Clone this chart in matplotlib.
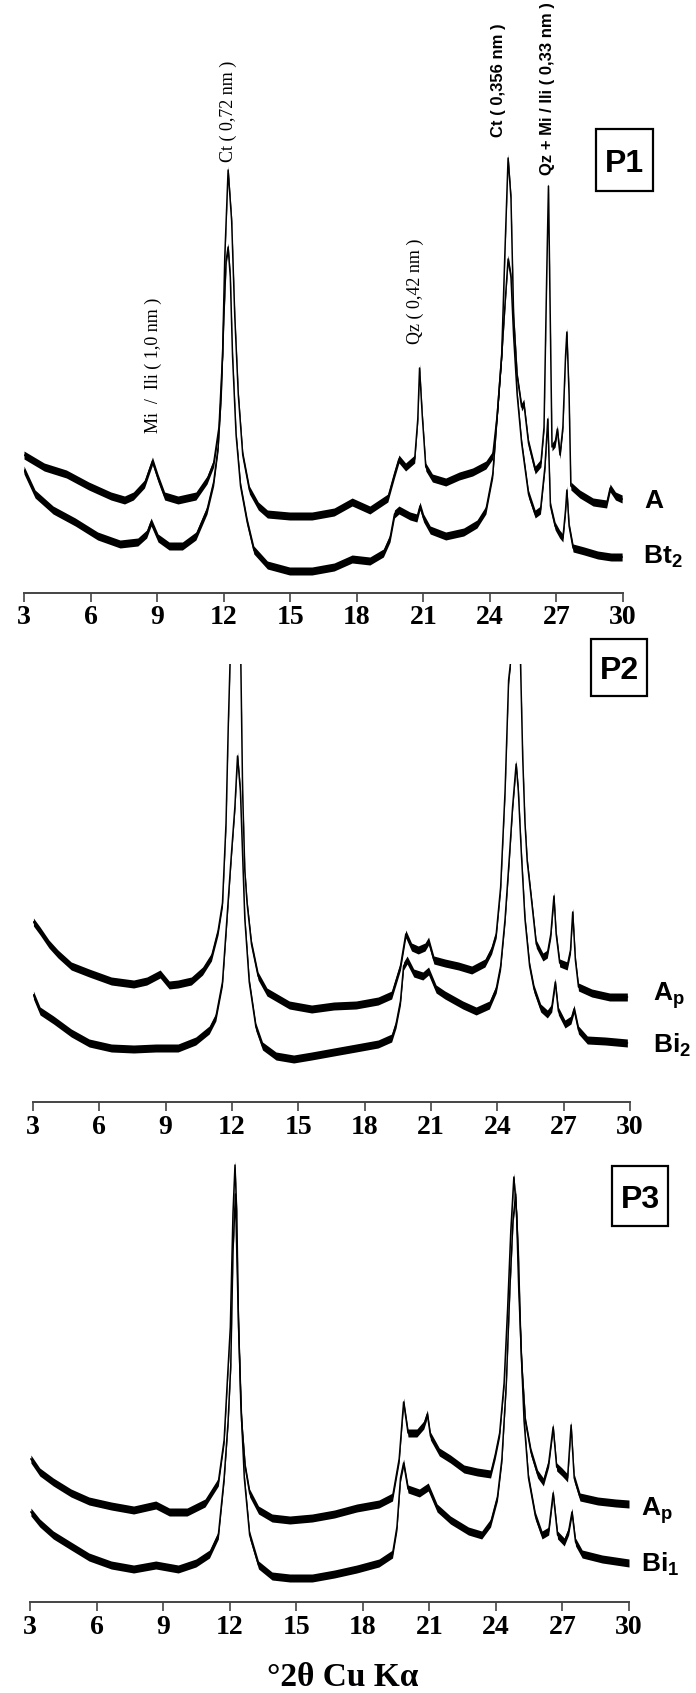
import numpy as np
import matplotlib
matplotlib.use('Agg')
import matplotlib.pyplot as plt
from matplotlib.patches import Rectangle

plt.rcParams['mathtext.fontset'] = 'custom'
plt.rcParams['mathtext.bf'] = 'Liberation Sans:bold'
plt.rcParams['mathtext.rm'] = 'Liberation Sans'

# diffractograms: (2theta in deg, relative intensity a.u.)
p1_A = [(3.00, 138), (3.91, 126), (4.91, 119), (5.92, 107), (6.92, 97), (7.53, 93), (7.93, 97),
        (8.43, 109), (8.79, 132), (9.04, 115), (9.34, 97), (9.94, 93), (10.75, 97), (11.25, 113),
        (11.55, 130), (11.79, 166), (11.95, 237), (12.05, 336), (12.20, 423), (12.36, 372),
        (12.50, 277), (12.66, 198), (12.86, 138), (13.16, 103), (13.56, 87), (13.97, 79),
        (14.97, 77), (15.98, 77), (16.98, 81), (17.79, 91), (18.59, 83), (19.40, 95), (19.70, 119),
        (19.90, 134), (20.20, 126), (20.61, 134), (20.75, 174), (20.83, 225), (20.95, 178),
        (21.11, 126), (21.41, 115), (22.01, 111), (22.62, 117), (23.22, 121), (23.82, 128),
        (24.13, 138), (24.33, 178), (24.53, 237), (24.67, 336), (24.82, 435), (24.95, 395),
        (25.07, 277), (25.23, 217), (25.43, 186), (25.53, 190), (25.74, 150), (26.04, 123),
        (26.30, 130), (26.44, 166), (26.56, 316), (26.64, 407), (26.72, 277), (26.80, 146),
        (26.94, 150), (27.04, 164), (27.16, 138), (27.29, 166), (27.41, 237), (27.47, 261),
        (27.57, 198), (27.65, 107), (28.05, 99), (28.65, 91), (29.26, 89), (29.42, 105),
        (29.66, 97), (29.96, 94)]
p1_Bt2 = [(3.00, 123), (3.50, 99), (4.31, 83), (5.31, 71), (6.32, 57), (7.33, 49), (8.13, 51),
          (8.53, 59), (8.73, 71), (9.04, 55), (9.54, 47), (10.14, 47), (10.75, 57), (11.25, 83),
          (11.55, 111), (11.75, 146), (11.89, 198), (12.01, 277), (12.11, 332), (12.20, 346),
          (12.30, 316), (12.40, 237), (12.56, 158), (12.76, 107), (13.06, 71), (13.36, 43),
          (13.97, 28), (14.97, 22), (15.98, 22), (16.98, 26), (17.79, 34), (18.59, 32),
          (19.20, 40), (19.50, 55), (19.70, 79), (19.90, 83), (20.40, 77), (20.71, 75),
          (20.85, 87), (21.01, 75), (21.31, 63), (22.01, 57), (22.82, 61), (23.42, 69),
          (23.82, 83), (24.13, 119), (24.33, 178), (24.53, 237), (24.69, 292), (24.82, 334),
          (24.95, 316), (25.07, 257), (25.23, 198), (25.43, 150), (25.74, 99), (26.04, 79),
          (26.28, 83), (26.48, 126), (26.61, 174), (26.73, 87), (26.94, 67), (27.14, 59),
          (27.29, 55), (27.41, 83), (27.47, 103), (27.57, 67), (27.75, 45), (28.25, 42),
          (28.86, 38), (29.46, 36), (29.96, 36)]

p2_Ap = [(3.02, 180), (3.32, 171), (3.72, 158), (4.13, 148), (4.73, 136), (5.54, 129), (6.54, 121),
         (7.55, 118), (8.15, 121), (8.75, 128), (9.16, 117), (9.56, 118), (10.16, 121), (10.67, 131),
         (11.07, 145), (11.37, 171), (11.57, 199), (11.73, 279), (11.83, 375), (11.91, 438),
         (12.00, 520), (12.15, 640), (12.30, 610), (12.40, 438), (12.48, 311), (12.58, 231),
         (12.68, 199), (12.88, 158), (13.18, 126), (13.58, 110), (14.59, 97), (15.60, 93),
         (16.60, 96), (17.61, 97), (18.61, 101), (19.22, 107), (19.62, 136), (19.86, 168),
         (20.12, 155), (20.42, 152), (20.73, 155), (20.89, 161), (21.13, 142), (21.63, 139),
         (22.24, 136), (22.84, 132), (23.44, 139), (23.74, 152), (23.95, 168), (24.15, 215),
         (24.35, 311), (24.51, 422), (24.59, 438), (24.75, 640), (24.92, 620), (25.05, 438),
         (25.15, 343), (25.25, 279), (25.35, 241), (25.56, 199), (25.76, 158), (26.06, 145),
         (26.26, 148), (26.42, 168), (26.56, 206), (26.66, 168), (26.82, 139), (27.16, 136),
         (27.31, 152), (27.41, 190), (27.53, 142), (27.67, 115), (28.27, 109), (29.08, 105),
         (29.88, 105)]
p2_Bi2 = [(3.02, 107), (3.32, 91), (3.93, 82), (4.73, 69), (5.54, 59), (6.54, 54), (7.55, 53),
          (8.55, 54), (9.56, 54), (10.36, 61), (10.97, 72), (11.27, 85), (11.57, 120), (11.77, 183),
          (11.97, 247), (12.13, 295), (12.25, 346), (12.38, 311), (12.48, 247), (12.58, 183),
          (12.78, 120), (13.08, 75), (13.38, 56), (13.99, 46), (14.79, 43), (15.60, 46),
          (16.60, 50), (17.61, 54), (18.61, 58), (19.22, 64), (19.42, 78), (19.62, 101),
          (19.76, 136), (19.92, 142), (20.22, 129), (20.63, 126), (20.89, 131), (21.23, 113),
          (21.63, 107), (22.44, 97), (23.04, 91), (23.64, 97), (23.95, 113), (24.15, 136),
          (24.35, 183), (24.55, 247), (24.69, 295), (24.85, 338), (24.95, 311), (25.09, 247),
          (25.25, 183), (25.46, 136), (25.66, 113), (25.96, 94), (26.26, 88), (26.46, 94),
          (26.62, 120), (26.76, 91), (27.06, 78), (27.33, 82), (27.47, 93), (27.67, 72),
          (28.07, 62), (28.88, 61), (29.88, 59)]

p3_Ap = [(3.04, 143), (3.44, 130), (4.05, 120), (4.85, 109), (5.66, 101), (6.66, 96), (7.67, 92),
         (8.67, 97), (9.28, 90), (10.08, 90), (10.89, 99), (11.49, 120), (11.75, 162), (11.89, 219),
         (12.03, 275), (12.15, 389), (12.24, 437), (12.32, 389), (12.40, 275), (12.54, 181),
         (12.70, 135), (12.90, 109), (13.30, 92), (13.91, 84), (14.71, 82), (15.72, 84),
         (16.72, 88), (17.73, 94), (18.73, 98), (19.34, 105), (19.64, 143), (19.84, 200),
         (20.04, 169), (20.44, 169), (20.75, 177), (20.91, 188), (21.05, 166), (21.45, 150),
         (21.95, 143), (22.56, 133), (23.16, 130), (23.76, 128), (23.97, 147), (24.17, 169),
         (24.37, 219), (24.53, 294), (24.67, 370), (24.81, 425), (24.93, 389), (25.03, 313),
         (25.17, 237), (25.33, 181), (25.58, 150), (25.88, 128), (26.14, 120), (26.38, 139),
         (26.58, 175), (26.74, 135), (26.98, 130), (27.23, 124), (27.39, 177), (27.53, 124),
         (27.79, 105), (28.59, 101), (29.40, 99), (30.00, 98)]
p3_Bi1 = [(3.04, 90), (3.44, 79), (4.05, 67), (4.85, 56), (5.66, 45), (6.66, 37), (7.67, 33),
          (8.67, 37), (9.68, 33), (10.48, 39), (11.09, 48), (11.49, 67), (11.75, 124), (11.93, 181),
          (12.05, 237), (12.15, 351), (12.26, 408), (12.36, 313), (12.50, 200), (12.66, 124),
          (12.90, 67), (13.30, 37), (13.91, 26), (14.71, 24), (15.72, 24), (16.72, 28),
          (17.73, 33), (18.73, 39), (19.34, 48), (19.54, 75), (19.70, 124), (19.84, 139),
          (20.04, 113), (20.55, 109), (20.95, 115), (21.35, 94), (21.95, 82), (22.76, 71),
          (23.36, 67), (23.76, 79), (24.07, 105), (24.27, 143), (24.47, 219), (24.63, 313),
          (24.77, 381), (24.89, 408), (25.01, 351), (25.13, 256), (25.27, 181), (25.47, 124),
          (25.78, 86), (26.08, 67), (26.38, 71), (26.58, 109), (26.78, 67), (27.08, 60),
          (27.28, 71), (27.43, 90), (27.59, 60), (27.89, 48), (28.79, 43), (30.00, 39)]

ticks = list(range(3, 31, 3))

W, H = 696, 1693
fig = plt.figure(figsize=(W / 100, H / 100), dpi=100)


def px_rect(l, r, t, b):
    return [l / W, (H - b) / H, (r - l) / W, (b - t) / H]


def fig_xy(x, y):
    return x / W, (H - y) / H


panels = [
    dict(box=(24, 623, 0, 593), curves=[p1_A, p1_Bt2],
         names=[(r'$\mathbf{A}$', 644, 508), (r'$\mathbf{Bt_2}$', 643, 564)],
         tag=('P1', 596, 653, 129, 191)),
    dict(box=(33, 630, 664, 1102), curves=[p2_Ap, p2_Bi2],
         names=[(r'$\mathbf{A_p}$', 653, 1001), (r'$\mathbf{Bi_2}$', 653, 1053)],
         tag=('P2', 591, 647, 639, 696)),
    dict(box=(30, 629, 1110, 1602), curves=[p3_Ap, p3_Bi1],
         names=[(r'$\mathbf{A_p}$', 641, 1516), (r'$\mathbf{Bi_1}$', 641, 1572)],
         tag=('P3', 612, 668, 1166, 1226)),
]

axes = []
for p in panels:
    l, r, t, b = p['box']
    ax = fig.add_axes(px_rect(l, r, t, b))
    ax.patch.set_visible(False)
    ax.set_xlim(3, 30)
    ax.set_ylim(0, b - t)
    for c in p['curves']:
        d = np.array(c)
        ax.fill_between(d[:, 0], d[:, 1] - 4, d[:, 1] + 4, color='black', lw=0)
        ax.plot(d[:, 0], d[:, 1], color='black', lw=1.1)
    for s in ['top', 'left', 'right']:
        ax.spines[s].set_visible(False)
    ax.spines['bottom'].set_color('#444444')
    ax.spines['bottom'].set_linewidth(1.4)
    ax.set_yticks([])
    ax.set_xticks(ticks)
    ax.tick_params(axis='x', direction='out', length=6.5, width=1.2, color='#444444', pad=2.5)
    for lab in ax.get_xticklabels():
        lab.set_fontfamily('Liberation Serif')
        lab.set_fontweight('bold')
        lab.set_fontsize(20)
    for txt, x, y in p['names']:
        fig.text(*fig_xy(x, y), txt, fontsize=19, ha='left', va='baseline')
    name, x0, x1, y0, y1 = p['tag']
    fig.add_artist(Rectangle(fig_xy(x0, y1), (x1 - x0) / W, (y1 - y0) / H,
                             transform=fig.transFigure, fill=False, ec='black', lw=1.6))
    fig.text(*fig_xy((x0 + x1) / 2, (y0 + y1) / 2 + 11.5), name, fontsize=23,
             fontweight='bold', family='Liberation Sans', ha='center', va='baseline')
    axes.append(ax)

# peak labels on P1
ax1 = axes[0]
serif = dict(family='Liberation Serif', fontsize=13, rotation=90, ha='center', va='bottom')
sansb = dict(family='Liberation Sans', fontsize=12, fontweight='bold', rotation=90,
             ha='center', va='bottom')
ax1.text(8.81, 160, 'Mi  /  Ili ( 1,0 nm )', **serif)
ax1.text(12.23, 431, 'Ct ( 0,72 nm )', **serif)
ax1.text(20.66, 249, 'Qz ( 0,42 nm )', **serif)
ax1.text(24.40, 456, 'Ct ( 0,356 nm )', **sansb)
ax1.text(26.60, 418, 'Qz + Mi / Ili ( 0,33 nm )', **sansb)

fig.text(*fig_xy(343, 1686), '°2θ Cu Kα', family='Liberation Serif', fontweight='bold',
         fontsize=24, ha='center', va='baseline')

fig.savefig('out.png', dpi=100)
